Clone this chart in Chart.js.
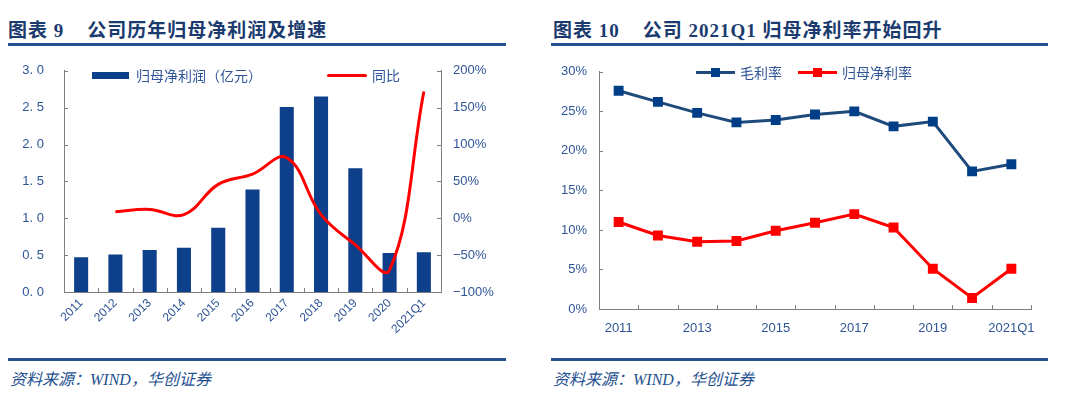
<!DOCTYPE html>
<html>
<head>
<meta charset="utf-8">
<script src="https://cdn.jsdelivr.net/npm/chart.js@4.4.1/dist/chart.umd.min.js"></script>
<style>
  body { margin: 0; width: 1080px; height: 402px; background: #fff; position: relative; overflow: hidden; }
  .title { position: absolute; top: 15px; font: bold 19px "Liberation Serif", "Noto Sans CJK SC"; letter-spacing: 1px; color: #1B3B6F; white-space: pre; }
  .rule { position: absolute; height: 3px; background: #24508F; }
  .src { position: absolute; top: 366px; font: italic 16px "Liberation Serif", "Noto Sans CJK SC"; color: #24508F; white-space: pre; }
  canvas { position: absolute; }
  .legend { position: absolute; font: 14px "Noto Sans CJK SC"; color: #2F5597; white-space: nowrap; }
  .legend span { display: inline-block; vertical-align: middle; }
</style>
</head>
<body>
<canvas id="profitChart" width="530" height="312" style="left:0;top:43px"></canvas>
<canvas id="marginChart" width="530" height="298" style="left:540px;top:52px"></canvas>

<div class="title" style="left:8px">图表 9    公司历年归母净利润及增速</div>
<div class="rule" style="left:8px;top:43px;width:498px"></div>
<div class="title" style="left:553px">图表 10    公司 2021Q1 归母净利率开始回升</div>
<div class="rule" style="left:551px;top:43px;width:497px"></div>

<div class="legend" id="legendLeft" style="left:92px;top:63px"></div>
<div class="legend" id="legendRight" style="left:696px;top:60px"></div>

<div class="rule" style="left:8px;top:358px;width:498px"></div>
<div class="rule" style="left:551px;top:358px;width:497px"></div>
<div class="src" style="left:10px">资料来源：WIND，华创证券</div>
<div class="src" style="left:553px">资料来源：WIND，华创证券</div>

<script>
const years = ['2011', '2012', '2013', '2014', '2015', '2016', '2017', '2018', '2019', '2020', '2021Q1'];
const netProfit = [0.47, 0.51, 0.57, 0.60, 0.87, 1.39, 2.51, 2.65, 1.68, 0.53, 0.54];
const yoyGrowth = [null, 9, 12, 5, 46, 60, 82, 5, -36, -70, 172];
const grossMargin = [27.6, 26.2, 24.8, 23.6, 23.9, 24.6, 25.0, 23.1, 23.7, 17.4, 18.3];
const netMargin = [11.0, 9.3, 8.5, 8.6, 9.9, 10.9, 12.0, 10.3, 5.1, 1.4, 5.1];

const BLUE_BAR = '#0E3F8A';
const NAVY_LINE = '#1F4A7C';
const NAVY_MARK = '#003F87';
const RED = '#FF0000';
const TEXT = '#2F5597';
const AXIS = '#7F7F7F';
const tickFont = { family: 'Liberation Sans', size: 13 };

// excel style tick marks pointing into the plot
const insideTicks = {
  id: 'insideTicks',
  afterDraw(chart) {
    const { ctx } = chart;
    const len = 4;
    ctx.save();
    ctx.strokeStyle = AXIS;
    ctx.lineWidth = 1;
    ctx.beginPath();
    Object.values(chart.scales).forEach(scale => {
      if (scale.axis === 'x') {
        for (let i = 0; i <= scale.ticks.length; i++) {
          const x = Math.round(scale.getPixelForValue(i - 0.5)) + 0.5;
          ctx.moveTo(x, scale.top);
          ctx.lineTo(x, scale.top - len);
        }
      } else {
        const left = scale.position === 'left';
        const x0 = left ? scale.right : scale.left;
        scale.ticks.forEach(t => {
          const y = Math.round(scale.getPixelForValue(t.value)) + 0.5;
          ctx.moveTo(x0, y);
          ctx.lineTo(x0 + (left ? len : -len), y);
        });
      }
    });
    ctx.stroke();
    ctx.restore();
  }
};

const noGrid = { display: false, drawTicks: false };

new Chart(document.getElementById('profitChart'), {
  type: 'bar',
  data: {
    labels: years,
    datasets: [
      {
        type: 'line',
        label: '同比',
        data: yoyGrowth,
        yAxisID: 'y1',
        borderColor: RED,
        borderWidth: 3,
        pointRadius: 0,
        tension: 0.4,
        clip: false,
        order: 0
      },
      {
        label: '归母净利润（亿元）',
        data: netProfit,
        yAxisID: 'y',
        backgroundColor: BLUE_BAR,
        barPercentage: 0.41,
        categoryPercentage: 1,
        order: 1
      }
    ]
  },
  options: {
    responsive: false,
    animation: false,
    layout: { padding: { top: 10 } },
    plugins: { legend: { display: false }, tooltip: { enabled: false } },
    scales: {
      x: {
        grid: noGrid,
        border: { display: true, color: AXIS, width: 1 },
        ticks: { color: TEXT, font: { family: 'Liberation Sans', size: 12 }, minRotation: 45, maxRotation: 45, padding: 4, autoSkip: false },
        afterFit(s) { s.height = 63; }
      },
      y: {
        position: 'left',
        min: 0, max: 3,
        grid: noGrid,
        border: { display: true, color: AXIS, width: 1 },
        ticks: { stepSize: 0.5, color: TEXT, font: tickFont, padding: 20,
          callback: v => v.toFixed(1).replace('.', '. ') },
        afterFit(s) { s.width = 64; }
      },
      y1: {
        position: 'right',
        min: -100, max: 200,
        grid: noGrid,
        border: { display: true, color: AXIS, width: 1 },
        ticks: { stepSize: 50, color: TEXT, font: tickFont, padding: 12,
          callback: v => (v < 0 ? '\u2212' + (-v) : v) + '%' },
        afterFit(s) { s.width = 89; }
      }
    }
  },
  plugins: [insideTicks]
});

new Chart(document.getElementById('marginChart'), {
  type: 'line',
  data: {
    labels: years,
    datasets: [
      {
        label: '毛利率',
        data: grossMargin,
        borderColor: NAVY_LINE,
        backgroundColor: NAVY_MARK,
        pointBorderColor: NAVY_MARK,
        borderWidth: 3,
        pointStyle: 'rect',
        pointRadius: 7,
        pointBorderWidth: 0
      },
      {
        label: '归母净利率',
        data: netMargin,
        borderColor: RED,
        backgroundColor: RED,
        pointBorderColor: RED,
        borderWidth: 3,
        pointStyle: 'rect',
        pointRadius: 7,
        pointBorderWidth: 0
      }
    ]
  },
  options: {
    responsive: false,
    animation: false,
    layout: { padding: { top: 10, right: 39 } },
    plugins: { legend: { display: false }, tooltip: { enabled: false } },
    scales: {
      x: {
        offset: true,
        grid: { display: false, drawTicks: false, offset: true },
        border: { display: true, color: AXIS, width: 1 },
        ticks: { color: TEXT, font: tickFont, maxRotation: 0, autoSkip: false, padding: 12,
          callback: (v, i) => (i % 2 === 0 ? years[i] : '') },
        afterFit(s) { s.height = 41; }
      },
      y: {
        min: 0, max: 30,
        grid: noGrid,
        border: { display: true, color: AXIS, width: 1 },
        ticks: { stepSize: 5, color: TEXT, font: tickFont, padding: 12, callback: v => v + '%' },
        afterFit(s) { s.width = 59; }
      }
    }
  },
  plugins: [insideTicks]
});

// legends built from the same series names/colours
document.getElementById('legendLeft').innerHTML =
  '<span style="width:37px;height:7px;background:' + BLUE_BAR + '"></span>' +
  '<span style="margin-left:7px;width:191px">归母净利润（亿元）</span>' +
  '<span style="width:40px;height:3px;background:' + RED + ';border-radius:2px"></span>' +
  '<span style="margin-left:5px">同比</span>';

function lineKey(line, mark) {
  return '<span style="position:relative;width:39px;height:3px;background:' + line + '">' +
    '<span style="position:absolute;left:15px;top:-3px;width:9px;height:9px;background:' + mark + '"></span></span>';
}
document.getElementById('legendRight').innerHTML =
  lineKey(NAVY_LINE, NAVY_MARK) + '<span style="margin-left:5px;width:58px">毛利率</span>' +
  lineKey(RED, RED) + '<span style="margin-left:5px">归母净利率</span>';
</script>
</body>
</html>
